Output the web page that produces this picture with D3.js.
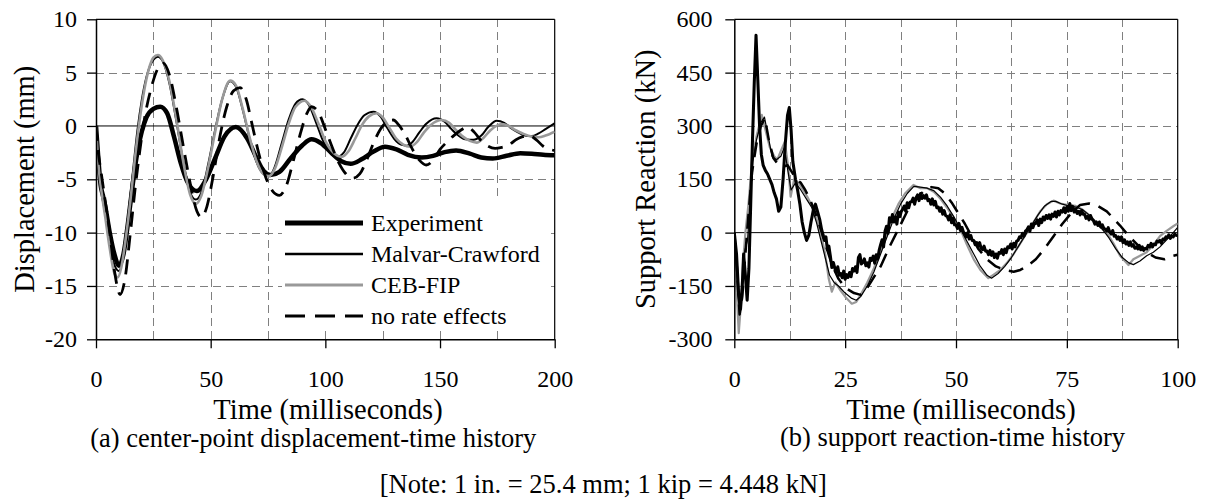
<!DOCTYPE html>
<html>
<head>
<meta charset="utf-8">
<script src="https://cdn.jsdelivr.net/npm/d3@7"></script>
<style>
html,body{margin:0;padding:0;background:#fff;}
svg{display:block;}
text{font-family:"Liberation Serif","Times New Roman",serif;fill:#000;}
</style>
</head>
<body>
<svg id="chart" width="1206" height="502"></svg>
<script>
// ---------- DATA: (a) centre-point displacement (mm) vs time (ms) ----------
const dispTicksY = [-20, -15, -10, -5, 0, 5, 10];
const dispTicksX = [0, 50, 100, 150, 200];
const dispGridX = [25, 50, 75, 100, 125, 150, 175];
const dispGridY = [-15, -10, -5, 5];

const expA_t = [0,1,2,3,4,6,8,10,12,14,16,18,20,22,25,28,31,34,37,40,44,48,52,56,61,66,70,73,76,80,85,90,94,98,103,107,111,116,121,126,131,136,142,147,152,157,163,168,173,179,185,190,195,200];
const expA_v = [0,-3,-5.5,-6.5,-7.5,-10,-12,-13.1,-12,-9,-5.5,-2.5,-0.5,0.8,1.6,1.8,1.2,-1,-3.5,-5.3,-6.1,-5,-3,-1,-0.1,-1.2,-3,-4.2,-4.6,-4.3,-3,-1.8,-1.25,-1.6,-2.6,-3.3,-3.55,-3.1,-2.4,-1.95,-2.2,-2.7,-2.95,-2.8,-2.45,-2.3,-2.6,-2.95,-3.05,-2.8,-2.55,-2.6,-2.7,-2.75];

const mcA_t = [0,1,2,4,6,8,10,12,14,16,18,20,22,25,27,29,32,35,38,41,43.5,46,49,52,55,58.5,61,64,67,70,73,75.5,78,81,84,87,90,93,96,99,102,105,108,111,114,117,121,124,127,130,133,135.5,138,141,144,148.5,152,155,158,161,164.5,168,171,174.7,178,181,184,187,190,193,196,200];
const mcA_v = [0,-3,-5,-8,-10.5,-13,-13.6,-12,-8.5,-4.5,-0.5,2.5,4.6,6.2,6.5,6.1,4,0.5,-3.3,-6.2,-6.9,-6.2,-3.5,-0.3,2.5,4.2,3.7,1.5,-1.2,-3.4,-4.5,-4.7,-3.8,-1.6,0.6,2.1,2.5,1.9,0.3,-1.4,-2.5,-2.9,-2.5,-1.2,0.1,1.0,1.34,0.9,-0.2,-1.2,-1.75,-1.85,-1.5,-0.6,0.2,0.72,0.4,-0.3,-0.9,-1.25,-1.3,-0.9,-0.1,0.5,0.3,-0.2,-0.6,-0.9,-0.95,-0.7,-0.3,0.25];

const cebA_t = [0,1,2,4,6,8,9.5,11,13,15,17,19,21,23,25,27,29,32,35,38,41,43.5,46,49,52,55,58.5,61,64,67,70,73,75.5,78,81,84,87,91,94,97,100,104,107,110,113,116,119,122.4,125,128,131,134,137,140,143,146,150.7,154,157,160,163,166,169,172,176.9,180,183,186,190,193,196,200];
const cebA_v = [0,-3.5,-5.5,-8.5,-11.5,-13.8,-14.2,-13.3,-10.5,-7,-3,0.5,3.3,5.3,6.4,6.65,6.2,4.2,0.7,-3.3,-6.4,-7.3,-6.5,-3.8,-0.5,2.5,4.25,3.8,1.6,-1.1,-3.3,-4.5,-4.7,-4.0,-2.0,0.2,1.8,2.37,1.7,0.2,-1.4,-2.6,-2.9,-2.4,-1.2,0.1,0.9,1.19,0.8,-0.2,-1.2,-1.75,-1.94,-1.5,-0.6,0.1,0.56,0.3,-0.4,-1,-1.4,-1.56,-1.1,-0.4,0.19,0,-0.4,-0.7,-1.0,-1.06,-0.9,-0.53];

const nreA_t = [0,1,2,4,6,8,10.5,12.5,15,17,19,21,24,27,29.3,32,35,38,41,44,46,48,51,54,57,60,62.8,65.5,68,71,74,77,80,83,86,89,92,94,97,100,103,106,109,112,115,118,121,124,127,129.6,132,135,138,141,144,147,150,153,156,159,162,165,168,171,174,177,180,183,186,189,192,195,198,200];
const nreA_v = [0,-2.5,-4,-7,-10,-13.5,-15.8,-14.5,-10,-6,-2.5,0.5,3.5,5.4,5.9,4.8,1.8,-1.8,-5.3,-8,-8.56,-7.8,-4.8,-1,1.8,3.3,3.6,2.5,0.2,-2.6,-4.8,-6.1,-6.5,-5.6,-3.3,-0.8,1.2,1.8,1.3,-0.3,-2,-3.5,-4.5,-4.9,-4.5,-3.2,-1.6,-0.3,0.4,0.56,0.1,-0.9,-2.2,-3.2,-3.66,-3.2,-2.2,-1.5,-0.9,-0.4,-0.1,-0.6,-1.4,-1.9,-2.1,-2.0,-1.8,-1.3,-1.0,-0.9,-1.3,-1.9,-2.2,-2.3];

// ---------- DATA: (b) support reaction (kN) vs time (ms) ----------
const reacTicksY = [-300, -150, 0, 150, 300, 450, 600];
const reacTicksX = [0, 25, 50, 75, 100];
const reacGridX = [12.5, 25, 37.5, 50, 62.5, 75, 87.5];
const reacGridY = [-150, 150, 300, 450];

// experiment, impact phase (0-20 ms)
const expB1_t = [0,0.5,1,1.4,1.8,2.1,2.5,2.9,3.3,3.7,4.1,4.5,4.9,5.3,5.7,6.1,6.5,7,7.5,8,8.5,9,9.5,10,10.5,11,11.5,12,12.4,12.8,13.2,13.8,14.3,14.8,15.3,15.8,16.3,16.8,17.3,17.8,18.3,18.8,19.3,19.7];
const expB1_v = [0,-60,-180,-215,-150,-60,-120,-190,-100,80,260,420,555,430,300,220,190,175,165,150,135,112,95,60,72,150,250,330,352,290,200,150,118,80,30,0,-22,-8,30,62,80,58,35,8];
// experiment, free vibration (20-100 ms, sampled every 1/3 ms)
const expB2_v = [
  -5,-22,-12, -48,-38,-66, -98,-84,-100, -112,-96,-120, -115,-127,-108, -131,-118,-126, -112,-124,-101,
  -108,-96,-112, -70,-62,-88, -84,-74,-93, -85,-97,-72, -78,-66,-86, -62,-74,-50, -34,-20,-40,
  4,18,-2, 42,30,51, 30,44,24, 58,45,60, 66,75,60, 84,70,86, 88,97,80, 98,106,90, 110,96,104,
  97,106,90, 93,80,95, 78,88,70, 72,60,70, 52,62,48, 46,36,50, 28,40,22, 22,12,26, 6,15,2,
  -3,-12,0, -18,-8,-22, -22,-34,-28, -38,-28,-44, -48,-38,-52, -52,-62,-50, -64,-54,-70, -60,-72,-56,
  -58,-48,-62, -46,-56,-40, -42,-32,-46, -30,-40,-24, -22,-12,-14, -2,-10,4, 8,16,4, 24,14,26,
  26,36,20, 38,28,44, 36,48,40, 50,38,52, 46,58,44, 60,50,62, 58,70,56, 72,60,82, 62,74,58,
  66,54,60, 50,62,52, 52,40,46, 36,48,38, 34,24,30, 20,30,16, 22,12,10, 4,14,2, -4,6,-10,
  -8,-18,-12, -22,-12,-28, -20,-32,-26, -36,-26,-38, -34,-44,-40, -46,-36,-48, -40,-50,-44,
  -46,-36,-40, -30,-40,-32, -34,-24,-26, -22,-30,-18, -20,-12,-14, -6,-16,-10, -12,-4,-8, -6];
const expB2_t = d3.range(expB2_v.length).map(i => 20 + i / 3);

const mcB_t = [0,0.6,1.2,1.8,2.4,3,3.6,4.2,5,6,6.8,7.5,8.5,9.5,10.5,11.3,12,12.8,13.8,15,16.5,17.5,18.5,19.5,20.5,21.5,22.5,23.5,25,26.5,27.5,28.5,30,31.5,33,34.5,36,37.5,39,40.5,42,43.5,45,46.5,48,49.5,51,52.5,54,55.5,57,58,59.5,61,62.5,64,65.5,67,68.5,70,71.5,72.5,74,75.5,77,78.5,80,81.5,83,84.5,86,87.5,89,90,91.5,93,94.5,96,97.5,99,100];
const mcB_v = [0,-120,-230,-150,-50,-20,100,200,260,310,325,280,215,205,215,240,180,120,140,120,90,70,30,-20,-70,-120,-140,-150,-170,-185,-190,-180,-150,-110,-60,-10,40,80,110,130,128,125,118,100,75,45,10,-25,-60,-95,-120,-128,-115,-95,-70,-40,-10,20,50,75,88,88,80,75,72,65,50,30,10,-15,-45,-70,-85,-90,-80,-65,-55,-40,-20,0,15];

const cebB_t = [0,0.5,1,1.5,2,2.5,3.2,4,5,6.2,7,8,9,9.7,10.5,11.4,12.2,12.7,13.5,14.5,15.5,16.5,17.5,18.5,19.5,20.5,21.3,22,22.8,23.8,25,26.5,27.5,28.5,30,31.5,33,34.4,35.5,37,38.5,40.4,42,43.5,45,46.5,48,49.5,51.3,52.5,54,55.5,57.3,58.5,60,61.5,63,64.5,66,67.5,69,70.5,72,73.5,75,77,78.5,80,81.5,83,84,85.5,87,88.9,90,91.5,93,94.5,96,97.5,99,100];
const cebB_v = [0,-150,-283,-200,-80,0,80,200,270,331,290,240,215,205,230,256,180,101,150,140,120,100,75,40,0,-60,-130,-166,-140,-160,-180,-200,-195,-175,-140,-100,-50,0,40,80,110,134,125,125,115,95,70,40,0,-35,-75,-105,-128,-118,-105,-85,-60,-30,0,30,60,80,90,82,78,75,65,50,30,10,0,-30,-65,-91,-75,-65,-55,-35,-10,5,18,26];

const nreB_t = [0,0.6,1.2,1.8,2.5,3.2,4,5,6,6.9,7.8,8.8,10,11,12,13,14,15,16,17,18,19,20,21,22,23.5,25,27,28.5,29.5,31,33,35,37,39,41,43,44.5,46,47.5,49,50.5,52,53.5,55,57,59,61,63,64.5,66,68,70,72,74,76,78,80,82,84,85.5,87,89,91,93,95,97,99,100];
const nreB_v = [0,-100,-230,-180,-60,50,170,250,300,322,260,210,190,185,190,170,150,140,120,95,65,30,-10,-50,-90,-130,-155,-170,-175,-165,-135,-95,-40,10,60,95,120,128,125,110,85,55,25,-10,-45,-75,-95,-105,-110,-105,-95,-75,-45,-10,25,55,78,82,75,60,40,20,-10,-35,-55,-70,-75,-65,-62];

const seriesNames = ["Experiment", "Malvar-Crawford", "CEB-FIP", "no rate effects"];

// ---------- DRAWING ----------
const svg = d3.select("#chart");
svg.append("rect").attr("width", 1206).attr("height", 502).attr("fill", "#fff");

const styles = {
  "Experiment": {stroke: "#000", w: 4.5, dash: null},
  "Malvar-Crawford": {stroke: "#000", w: 2, dash: null},
  "CEB-FIP": {stroke: "#999", w: 2.6, dash: null},
  "no rate effects": {stroke: "#000", w: 2.8, dash: "15,9"}
};

function zip(t, v) { return t.map((d, i) => [d, v[i]]); }

function panel(cfg) {
  const {x, y, gridX, gridY} = cfg;
  const g = svg.append("g");
  const [x0, x1] = x.range();
  const [y0, y1] = y.range();
  g.selectAll("line.gx").data(gridX).join("line").attr("class", "gx")
    .attr("x1", d => Math.round(x(d)) + 0.5).attr("x2", d => Math.round(x(d)) + 0.5).attr("y1", y1).attr("y2", y0)
    .attr("stroke", "#808080").attr("stroke-width", 1).attr("stroke-dasharray", "8,5")
    .attr("shape-rendering", "crispEdges");
  g.selectAll("line.gy").data(gridY).join("line").attr("class", "gy")
    .attr("x1", x0).attr("x2", x1).attr("y1", d => Math.round(y(d)) + 0.5).attr("y2", d => Math.round(y(d)) + 0.5)
    .attr("stroke", "#808080").attr("stroke-width", 1).attr("stroke-dasharray", "8,5")
    .attr("shape-rendering", "crispEdges");
  g.append("line").attr("x1", x0).attr("x2", x1).attr("y1", y(0)).attr("y2", y(0))
    .attr("stroke", "#000").attr("stroke-width", 1);
  g.append("line").attr("x1", x0).attr("x2", x1).attr("y1", y1).attr("y2", y1).attr("stroke", "#000").attr("stroke-width", 1.2);
  g.append("line").attr("x1", x1).attr("x2", x1).attr("y1", y1).attr("y2", y0).attr("stroke", "#000").attr("stroke-width", 1.2);
  return g;
}

function drawSeries(g, x, y, curve, list, ws) {
  const clipId = "clip" + Math.round(x.range()[0]);
  svg.append("clipPath").attr("id", clipId).append("rect")
    .attr("x", x.range()[0]).attr("y", y.range()[1])
    .attr("width", x.range()[1] - x.range()[0]).attr("height", y.range()[0] - y.range()[1]);
  const line = d3.line().x(d => x(d[0])).y(d => y(d[1])).curve(curve);
  list.forEach(s => {
    const st = styles[s.name];
    g.append("path").datum(s.data).attr("d", line)
      .attr("fill", "none").attr("stroke", st.stroke)
      .attr("stroke-width", st.w * (ws[s.name] || 1))
      .attr("stroke-dasharray", st.dash)
      .attr("stroke-linejoin", "round")
      .attr("clip-path", `url(#${clipId})`);
  });
}

function axes(g, x, y, ticksX, ticksY, padY) {
  const ax = g.append("g").attr("transform", `translate(0,${y.range()[0]})`)
    .call(d3.axisBottom(x).tickValues(ticksX).tickSize(9).tickSizeOuter(0).tickPadding(22).tickFormat(d => String(d)));
  ax.select(".domain").attr("stroke-width", 1.5);
  ax.selectAll(".tick line").attr("stroke-width", 1.3);
  ax.selectAll("text").attr("font-size", 24);
  const ay = g.append("g").attr("transform", `translate(${x.range()[0]},0)`)
    .call(d3.axisLeft(y).tickValues(ticksY).tickSize(9).tickSizeOuter(0).tickPadding(padY).tickFormat(d => String(d)));
  ay.select(".domain").attr("stroke-width", 1.5);
  ay.selectAll(".tick line").attr("stroke-width", 1.3);
  ay.selectAll("text").attr("font-size", 24);
}

// Panel (a)
const xA = d3.scaleLinear().domain([0, 200]).range([96, 554.7]);
const yA = d3.scaleLinear().domain([-20, 10]).range([339.3, 19.3]);
const gA = panel({x: xA, y: yA, gridX: dispGridX, gridY: dispGridY});
drawSeries(gA, xA, yA, d3.curveMonotoneX, [
  {name: "Experiment", data: zip(expA_t, expA_v)},
  {name: "Malvar-Crawford", data: zip(mcA_t, mcA_v)},
  {name: "CEB-FIP", data: zip(cebA_t, cebA_v)},
  {name: "no rate effects", data: zip(nreA_t, nreA_v)}
], {});

// legend (a)
const lg = gA.append("g");
lg.append("rect").attr("x", 282).attr("y", 197).attr("width", 264).attr("height", 134).attr("fill", "#fff");
const legY = d3.scalePoint().domain(seriesNames).range([223, 316]);
seriesNames.forEach(n => {
  const st = styles[n];
  lg.append("line").attr("x1", 285).attr("x2", 363).attr("y1", legY(n)).attr("y2", legY(n))
    .attr("stroke", st.stroke).attr("stroke-width", n === "Experiment" ? 5 : (n === "no rate effects" ? 3.2 : st.w + 0.4))
    .attr("stroke-dasharray", n === "no rate effects" ? "20,10" : null);
  lg.append("text").attr("x", 371).attr("y", legY(n)).attr("dy", "0.35em").attr("font-size", 24).text(n);
});
axes(gA, xA, yA, dispTicksX, dispTicksY, 10);

// Panel (b)
const xB = d3.scaleLinear().domain([0, 100]).range([734.3, 1177.7]);
const yB = d3.scaleLinear().domain([-300, 600]).range([339.3, 19.3]);
const gB = panel({x: xB, y: yB, gridX: reacGridX, gridY: reacGridY});
drawSeries(gB, xB, yB, d3.curveLinear, [
  {name: "CEB-FIP", data: zip(cebB_t, cebB_v)},
  {name: "Malvar-Crawford", data: zip(mcB_t, mcB_v)},
  {name: "no rate effects", data: zip(nreB_t, nreB_v)},
  {name: "Experiment", data: zip(expB1_t, expB1_v).concat(zip(expB2_t, expB2_v))}
], {"Experiment": 0.68, "Malvar-Crawford": 0.6, "CEB-FIP": 0.85, "no rate effects": 0.9});
axes(gB, xB, yB, reacTicksX, reacTicksY, 12.7);

// titles
svg.append("text").attr("x", 328).attr("y", 419).attr("text-anchor", "middle").attr("font-size", 28.5).text("Time (milliseconds)");
svg.append("text").attr("x", 961).attr("y", 419).attr("text-anchor", "middle").attr("font-size", 28.5).text("Time (milliseconds)");
svg.append("text").attr("transform", "translate(34,179.3) rotate(-90)").attr("text-anchor", "middle").attr("font-size", 28.5).text("Displacement (mm)");
svg.append("text").attr("transform", "translate(655,179.3) rotate(-90)").attr("text-anchor", "middle").attr("font-size", 28.5).text("Support Reaction (kN)");
svg.append("text").attr("x", 313.3).attr("y", 447).attr("text-anchor", "middle").attr("font-size", 26.5).text("(a) center-point displacement-time history");
svg.append("text").attr("x", 952.5).attr("y", 446).attr("text-anchor", "middle").attr("font-size", 26.5).text("(b) support reaction-time history");
svg.append("text").attr("x", 603.3).attr("y", 493).attr("text-anchor", "middle").attr("font-size", 26.5).text("[Note: 1 in. = 25.4 mm; 1 kip = 4.448 kN]");
</script>
</body>
</html>
